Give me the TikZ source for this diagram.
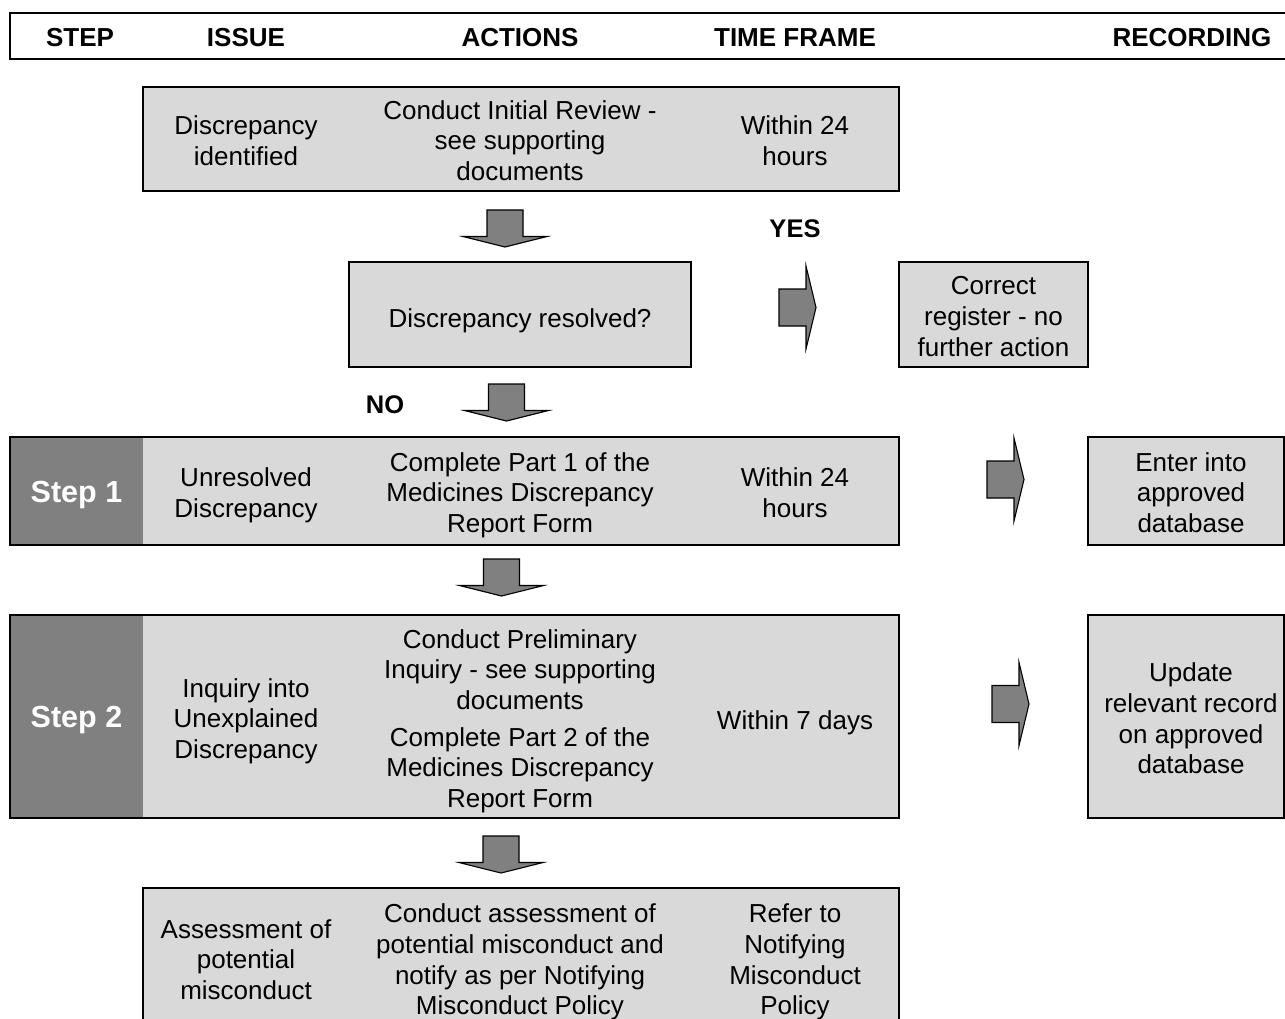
\documentclass[tikz,border=0pt]{standalone}
\usepackage{fontspec}
\setmainfont{Liberation Sans}
\usetikzlibrary{fit}
\definecolor{lightfill}{RGB}{217,217,217}
\definecolor{darkfill}{RGB}{128,128,128}
\begin{document}
\begin{tikzpicture}[x=1pt,y=-1pt,
  boxline/.style={draw=black, line width=2pt, inner sep=0pt},
  lbox/.style={boxline, fill=lightfill},
  dbox/.style={fill=darkfill, draw=none, inner sep=0pt},
  txt/.style={align=center, font=\fontsize{26}{30.7}\selectfont, inner sep=0pt, yshift=-3pt,
    execute at begin node=\strut, execute at end node=\strut},
  hdr/.style={font=\bfseries\fontsize{26}{30}\selectfont, inner sep=0pt},
  yn/.style={font=\bfseries\fontsize{25.5}{30}\selectfont, inner sep=0pt},
  steplbl/.style={font=\bfseries\fontsize{30.5}{34}\selectfont, text=white, inner sep=0pt, yshift=-4pt},
  blockarrow/.style={draw=black, line width=1.1pt, fill=darkfill, line join=miter},
  downarr/.pic={\draw[blockarrow] (-18,0) -- (18,0) -- (18,26.5) -- (42,26.5) -- (0,37) -- (-42,26.5) -- (-18,26.5) -- cycle;},
  rightarr/.pic={\draw[blockarrow] (0,-18.5) -- (27,-18.5) -- (27,-41.5) -- (37,0) -- (27,41.5) -- (27,18.5) -- (0,18.5) -- cycle;}
]
\useasboundingbox (0,0) rectangle (1285,1019);
\fill[white] (0,0) rectangle (1285,1019);
\clip (0,0) rectangle (1285,1019);

% header
\node[boxline, fit={(10,13) (1310,59)}] (hdrbox) {};
\node[hdr] (hstep) at (80,37.5) {STEP};
\node[hdr] (hissue) at (246,37.5) {ISSUE};
\node[hdr] (hact) at (520,37.5) {ACTIONS};
\node[hdr] (htime) at (795,37.5) {TIME FRAME};
\node[hdr] (hrec) at (1192,37.5) {RECORDING};

% initial review row
\node[lbox, fit={(143,87) (899,191)}] (b1) {};
\node[txt] (b1issue) at (246,142) {Discrepancy\\identified};
\node[txt] (b1act) at (520,142) {Conduct Initial Review -\\see supporting\\documents};
\node[txt] (b1time) at (795,142) {Within 24\\hours};

\pic at (505,210) {downarr};
\node[yn] (yes) at (795,229) {YES};

% question
\node[lbox, fit={(349,262) (691,367)}] (q) {};
\node[txt] (qtxt) at (520,318) {Discrepancy resolved?};
\pic at (779,307.5) {rightarr};
\node[lbox, fit={(899,262) (1088,367)}] (corr) {};
\node[txt] (corrtxt) at (993.5,318) {Correct\\register - no\\further action};

\pic at (506.5,384) {downarr};
\node[yn] (no) at (385,405) {NO};

% step 1
\fill[lightfill] (143,437) rectangle (899,545);
\node[dbox, fit={(10,437) (143,545)}] (s1lbl) {};
\node[boxline, fit={(10,437) (899,545)}] (s1) {};
\node[steplbl] (s1txt) at (s1lbl.center) {Step 1};
\node[txt] (s1issue) at (246,494) {Unresolved\\Discrepancy};
\node[txt] (s1act) at (520,494) {Complete Part 1 of the\\Medicines Discrepancy\\Report Form};
\node[txt] (s1time) at (795,494) {Within 24\\hours};
\pic at (987,479.5) {rightarr};
\node[lbox, fit={(1088,437) (1284,545)}] (rec1) {};
\node[txt] (rec1txt) at (1191,494) {Enter into\\approved\\database};

\pic at (501.5,559) {downarr};

% step 2
\fill[lightfill] (143,615) rectangle (899,818);
\node[dbox, fit={(10,615) (143,818)}] (s2lbl) {};
\node[boxline, fit={(10,615) (899,818)}] (s2) {};
\node[steplbl] (s2txt) at (s2lbl.center) {Step 2};
\node[txt] (s2issue) at (246,720) {Inquiry into\\Unexplained\\Discrepancy};
\node[txt] (s2acta) at (520,671) {Conduct Preliminary\\Inquiry - see supporting\\documents};
\node[txt] (s2actb) at (520,769) {Complete Part 2 of the\\Medicines Discrepancy\\Report Form};
\node[txt] (s2time) at (795,720) {Within 7 days};
\pic at (992,704) {rightarr};
\node[lbox, fit={(1088,615) (1284,818)}] (rec2) {};
\node[txt] (rec2txt) at (1191,720) {Update\\relevant record\\on approved\\database};

\pic at (501,836) {downarr};

% assessment
\node[lbox, fit={(143,888) (899,1040)}] (b5) {};
\node[txt] (b5issue) at (246,961) {Assessment of\\potential\\misconduct};
\node[txt] (b5act) at (520,961) {Conduct assessment of\\potential misconduct and\\notify as per Notifying\\Misconduct Policy};
\node[txt] (b5time) at (795,961) {Refer to\\Notifying\\Misconduct\\Policy};
\end{tikzpicture}
\end{document}
